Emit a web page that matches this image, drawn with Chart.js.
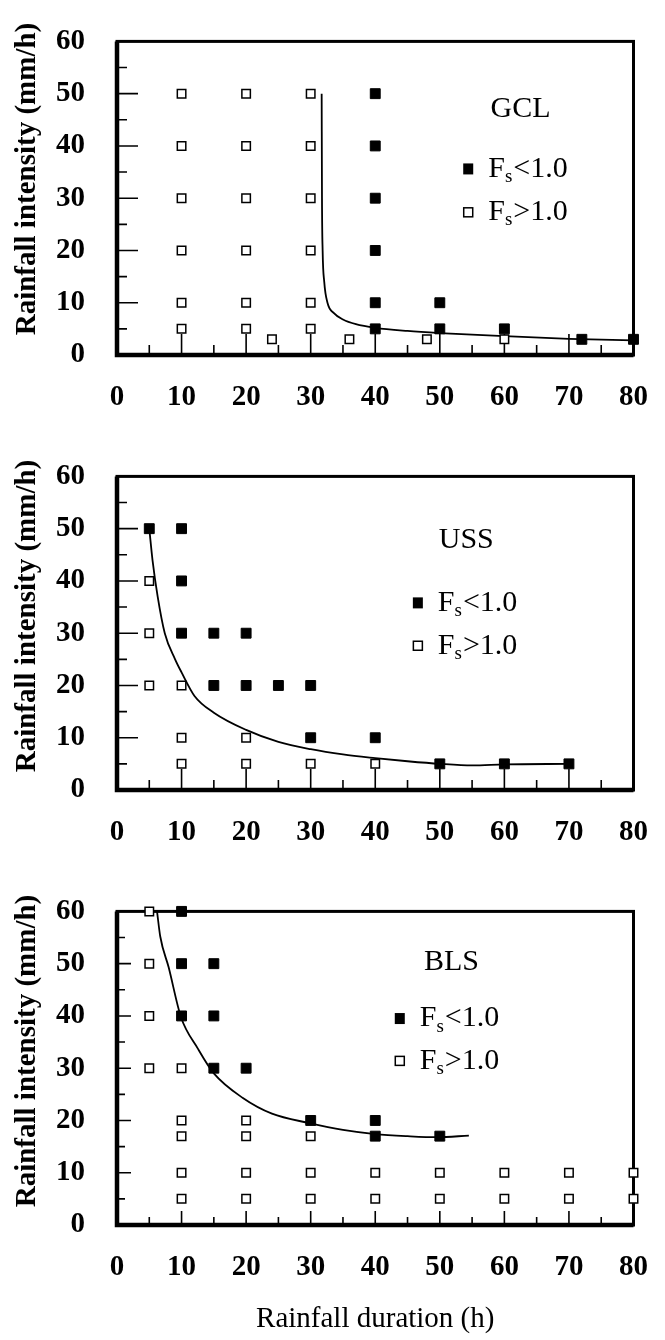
<!DOCTYPE html>
<html>
<head>
<meta charset="utf-8">
<script src="https://cdn.jsdelivr.net/npm/chart.js@4.4.1/dist/chart.umd.min.js"></script>
<style>
  html, body { margin:0; padding:0; background:#fff; }
  #wrap { position:relative; width:665px; height:1340px; }
  .panel { position:absolute; left:0; width:665px; }
</style>
</head>
<body>
<div id="wrap">
  <div class="panel" style="top:0"><canvas id="c0" width="665" height="435"></canvas></div>
  <div class="panel" style="top:435px"><canvas id="c1" width="665" height="435"></canvas></div>
  <div class="panel" style="top:870px"><canvas id="c2" width="665" height="470"></canvas></div>
</div>
<script>
// ── DATA ───────────────────────────────────────────────
const xTicks = [0, 10, 20, 30, 40, 50, 60, 70, 80];
const yTicks = [0, 10, 20, 30, 40, 50, 60];

// GCL  [duration h, intensity mm/h]
const gclFail = [[40,50],[40,40],[40,30],[40,20],[40,10],[40,5],[50,10],[50,5],[60,5],[72,3],[80,3]];
const gclSafe = [[10,50],[10,40],[10,30],[10,20],[10,10],[10,5],
                 [20,50],[20,40],[20,30],[20,20],[20,10],[20,5],
                 [30,50],[30,40],[30,30],[30,20],[30,10],[30,5],
                 [24,3],[36,3],[48,3],[60,3]];
const gclCurveX = [31.7, 31.75, 31.85, 32.1, 32.6, 33.6, 35, 37, 40, 45, 50, 60, 70, 80];
const gclCurveY = [50, 30, 20, 14, 10, 8, 6.8, 5.9, 5.2, 4.6, 4.2, 3.6, 3.1, 2.8];

// USS
const ussFail = [[5,50],[10,50],[10,40],[10,30],[15,30],[20,30],[15,20],[20,20],[25,20],[30,20],
                 [30,10],[40,10],[50,5],[60,5],[70,5]];
const ussSafe = [[5,40],[5,30],[5,20],[10,20],[10,10],[20,10],[10,5],[20,5],[30,5],[40,5]];
const ussCurveX = [5, 5.5, 6.3, 7.4, 9, 10, 12, 15, 20, 25, 30, 35, 40, 45, 50, 55, 60, 70];
const ussCurveY = [50, 44, 37, 30, 25, 22.5, 18, 14.8, 11.5, 9.2, 7.8, 6.8, 6.1, 5.5, 5, 4.7, 4.9, 5];

// BLS
const blsFail = [[10,60],[10,50],[15,50],[10,40],[15,40],[15,30],[20,30],[30,20],[40,20],[40,17],[50,17]];
const blsSafe = [[5,60],[5,50],[5,40],[5,30],[10,30],[10,20],[20,20],[10,17],[20,17],[30,17],
                 [10,10],[20,10],[30,10],[40,10],[50,10],[60,10],[70,10],[80,10],
                 [10,5],[20,5],[30,5],[40,5],[50,5],[60,5],[70,5],[80,5]];
const blsCurveX = [6.2, 6.7, 8, 9.9, 12.5, 15, 19.5, 24, 29.8, 35, 40, 45, 49.6, 54.5];
const blsCurveY = [60, 55.2, 49.3, 39.8, 33.8, 29, 24.3, 21.3, 19.5, 18.2, 17.4, 17, 16.8, 17.1];

// ── STYLE ──────────────────────────────────────────────
const serif = "'Liberation Serif', 'Times New Roman', serif";
const yTitle = 'Rainfall intensity (mm/h)';

const panels = [
  { id:'c0', name:'GCL', fail:gclFail, safe:gclSafe, cx:gclCurveX, cy:gclCurveY,
    nameAt:[62.5, 47], legX:54.4, legY:[35.6, 27.3], major:21, minor:10, xh:80, xTitle:false, titleY:179 },
  { id:'c1', name:'USS', fail:ussFail, safe:ussSafe, cx:ussCurveX, cy:ussCurveY,
    nameAt:[54.1, 47.8], legX:46.6, legY:[35.8, 27.6], major:21, minor:10, xh:80, xTitle:false, titleY:181 },
  { id:'c2', name:'BLS', fail:blsFail, safe:blsSafe, cx:blsCurveX, cy:blsCurveY,
    nameAt:[51.8, 50.2], legX:43.8, legY:[39.5, 31.4], major:14, minor:8, xh:115, xTitle:true, titleY:181 }
];

// ── FRAME, INWARD TICKS, LABELS ────────────────────────
function fsLabel(ctx, x, y, rel) {
  ctx.textBaseline = 'middle';
  ctx.textAlign = 'left';
  ctx.font = `30px ${serif}`;
  ctx.fillText('F', x, y);
  const wF = ctx.measureText('F').width;
  ctx.font = `19px ${serif}`;
  ctx.fillText('s', x + wF, y + 8);
  const ws = ctx.measureText('s').width;
  ctx.font = `30px ${serif}`;
  ctx.fillText(rel + '1.0', x + wF + ws + 1, y);
}

const frame = {
  id:'frame',
  beforeDatasetsDraw(chart, args, o) {
    const { ctx, chartArea:{ left, right, top, bottom }, scales:{ x, y } } = chart;
    ctx.save();
    ctx.strokeStyle = '#000';
    ctx.lineWidth = 1.6;
    ctx.beginPath();
    xTicks.forEach((v, i) => {
      if (v > xTicks[0] && v < xTicks[xTicks.length - 1]) {
        const px = x.getPixelForValue(v);
        ctx.moveTo(px, bottom); ctx.lineTo(px, bottom - o.major);
      }
      if (i < xTicks.length - 1) {
        const m = x.getPixelForValue((v + xTicks[i + 1]) / 2);
        ctx.moveTo(m, bottom); ctx.lineTo(m, bottom - o.minor);
      }
    });
    yTicks.forEach((v, i) => {
      if (v > yTicks[0] && v < yTicks[yTicks.length - 1]) {
        const py = y.getPixelForValue(v);
        ctx.moveTo(left, py); ctx.lineTo(left + o.major, py);
      }
      if (i < yTicks.length - 1) {
        const m = y.getPixelForValue((v + yTicks[i + 1]) / 2);
        ctx.moveTo(left, m); ctx.lineTo(left + o.minor, m);
      }
    });
    ctx.stroke();
    ctx.lineWidth = 3;
    ctx.strokeRect(left, top, right - left, bottom - top);
    ctx.lineWidth = 4.5;
    ctx.beginPath();
    ctx.moveTo(left, top); ctx.lineTo(left, bottom); ctx.lineTo(right, bottom);
    ctx.stroke();
    ctx.restore();
  },
  afterDraw(chart, args, o) {
    const { ctx, scales:{ x, y } } = chart;
    ctx.save();
    ctx.fillStyle = '#000';

    // y axis title (rotated)
    ctx.save();
    ctx.translate(28, o.titleY);
    ctx.rotate(-Math.PI / 2);
    ctx.font = `bold 29px ${serif}`;
    ctx.textAlign = 'center';
    ctx.textBaseline = 'middle';
    ctx.fillText(yTitle, 0, 0);
    ctx.restore();

    ctx.font = `30px ${serif}`;
    ctx.textAlign = 'center';
    ctx.textBaseline = 'middle';
    ctx.fillText(o.name, x.getPixelForValue(o.nameAt[0]), y.getPixelForValue(o.nameAt[1]));

    const sx = x.getPixelForValue(o.legX);
    const y1 = y.getPixelForValue(o.legY[0]);
    const y2 = y.getPixelForValue(o.legY[1]);
    ctx.fillRect(sx - 5, y1 - 5.5, 10, 11);
    ctx.fillStyle = '#fff';
    ctx.fillRect(sx - 4.5, y2 - 4.5, 9, 9);
    ctx.strokeStyle = '#000';
    ctx.lineWidth = 1.5;
    ctx.strokeRect(sx - 4.5, y2 - 4.5, 9, 9);
    ctx.fillStyle = '#000';
    fsLabel(ctx, sx + 20, y1, '<');
    fsLabel(ctx, sx + 20, y2, '>');
    ctx.restore();
  }
};

// ── CHARTS ─────────────────────────────────────────────
function pts(list) { return list.map(([x, y]) => ({ x, y })); }

panels.forEach(p => {
  new Chart(document.getElementById(p.id), {
    type:'scatter',
    data:{ datasets:[
      { label:'Fs<1.0', data:pts(p.fail), pointStyle:'rect', pointRadius:7,
        backgroundColor:'#000', borderColor:'#000', borderWidth:1, clip:false },
      { label:'Fs>1.0', data:pts(p.safe), pointStyle:'rect', pointRadius:6,
        backgroundColor:'#fff', borderColor:'#000', borderWidth:1.5, clip:false },
      { label:'critical', data:p.cx.map((v, i) => ({ x:v, y:p.cy[i] })), showLine:true,
        pointRadius:0, borderColor:'#000', borderWidth:1.8, cubicInterpolationMode:'monotone', clip:false }
    ]},
    options:{
      responsive:false,
      animation:false,
      events:[],
      layout:{ padding:{ top:20, right:20, left:0, bottom:0 } },
      plugins:{
        legend:{ display:false },
        tooltip:{ enabled:false },
        frame:{ name:p.name, nameAt:p.nameAt, legX:p.legX, legY:p.legY,
                major:p.major, minor:p.minor, titleY:p.titleY }
      },
      scales:{
        x:{
          type:'linear', min:0, max:80,
          afterBuildTicks: s => { s.ticks = xTicks.map(v => ({ value:v })); },
          afterFit: s => { s.height = p.xh; },
          grid:{ display:false },
          border:{ display:false },
          ticks:{ color:'#000', padding:17, maxRotation:0, autoSkip:false,
                  font:{ family:serif, size:29, weight:'bold' } },
          title:{ display:p.xTitle, text:'Rainfall duration (h)', color:'#000',
                  padding:{ top:0, bottom:3 }, font:{ family:serif, size:29 } }
        },
        y:{
          type:'linear', min:0, max:60,
          afterBuildTicks: s => { s.ticks = yTicks.map(v => ({ value:v })); },
          afterFit: s => { s.width = 117; },
          grid:{ display:false },
          border:{ display:false },
          ticks:{ color:'#000', padding:24, font:{ family:serif, size:29, weight:'bold' } },
          title:{ display:false }
        }
      }
    },
    plugins:[frame]
  });
});
</script>
</body>
</html>
